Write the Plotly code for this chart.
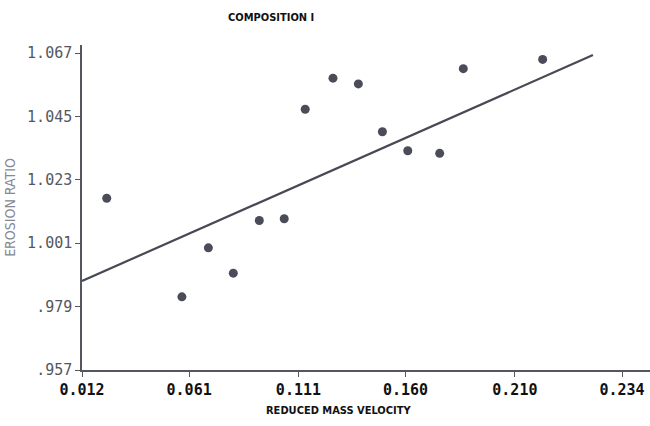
import plotly.graph_objects as go

# Data
mass_velocity = [0.0233, 0.0577, 0.0698, 0.0812, 0.0931, 0.1045, 0.1141,
                 0.1268, 0.1384, 0.1494, 0.1610, 0.1756, 0.1864, 0.2227]
erosion_ratio = [1.0166, 0.9824, 0.9994, 0.9906, 1.0089, 1.0095, 1.0475,
                 1.0583, 1.0563, 1.0397, 1.0331, 1.0322, 1.0616, 1.0648]
fit_x = [0.012, 0.2457]
fit_y = [0.9879, 1.0663]

x_tick_vals = [0.012, 0.061, 0.111, 0.160, 0.210, 0.259]
x_tick_text = ["0.012", "0.061", "0.111", "0.160", "0.210", "0.234"]
y_tick_vals = [0.957, 0.979, 1.001, 1.023, 1.045, 1.067]
y_tick_text = [".957", ".979", "1.001", "1.023", "1.045", "1.067"]

narrow = "Liberation Sans Narrow, Arial Narrow, DejaVu Sans Condensed, sans-serif"

fig = go.Figure()
fig.add_trace(go.Scatter(x=fit_x, y=fit_y, mode="lines",
                         line=dict(color="#474955", width=2.2),
                         showlegend=False, hoverinfo="skip"))
fig.add_trace(go.Scatter(x=mass_velocity, y=erosion_ratio, mode="markers",
                         marker=dict(color="#4a4c59", size=9),
                         showlegend=False))

fig.update_layout(
    width=650, height=426,
    margin=dict(l=82, r=0, t=45, b=56),
    paper_bgcolor="white", plot_bgcolor="white",
    xaxis=dict(range=[0.012, 0.2718], showgrid=False, zeroline=False,
               showline=True, linecolor="#55575f", linewidth=1.5,
               ticks="outside", ticklen=5, tickcolor="#55575f",
               tickvals=x_tick_vals, ticktext=x_tick_text,
               tickfont=dict(family="DejaVu Sans Mono", size=15, color="#111111", weight="bold")),
    yaxis=dict(range=[0.957, 1.0698], showgrid=False, zeroline=False,
               showline=True, linecolor="#55575f", linewidth=1.5,
               ticks="outside", ticklen=5, tickcolor="#55575f",
               tickvals=y_tick_vals, ticktext=y_tick_text,
               tickfont=dict(family="DejaVu Sans Mono", size=15, color="#555760"),
               title=dict(text="EROSION RATIO",
                          font=dict(family=narrow, size=14, color="#868892"),
                          standoff=8)),
    annotations=[
        dict(text="<b>COMPOSITION I</b>", xref="paper", yref="paper",
             x=0.333, y=1.0, yshift=28, xanchor="center", yanchor="middle",
             showarrow=False, font=dict(family=narrow, size=11, color="#111111")),
        dict(text="<b>REDUCED MASS VELOCITY</b>", xref="paper", yref="paper",
             x=0.452, y=0.0, yshift=-40, xanchor="center", yanchor="middle",
             showarrow=False, font=dict(family=narrow, size=11, color="#111111")),
    ],
)

fig.write_html("out.html")
